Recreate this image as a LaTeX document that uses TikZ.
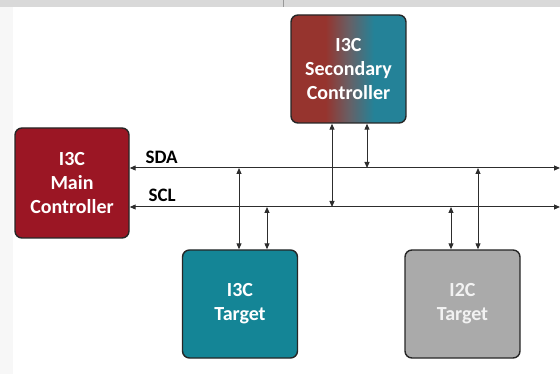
\documentclass[tikz,border=0pt]{standalone}
\usepackage{fontspec}
\setmainfont{Carlito}
\usetikzlibrary{arrows.meta,calc}

\definecolor{mainred}{RGB}{155,22,36}
\definecolor{secred}{RGB}{150,52,46}
\definecolor{secteal}{RGB}{36,130,152}
\definecolor{tgtteal}{RGB}{20,133,150}
\definecolor{tgtgray}{RGB}{170,170,170}
\definecolor{edgedark}{RGB}{38,38,38}
\definecolor{wirecol}{RGB}{45,45,45}

% Verlauf rot -> petrol fuer den Secondary Controller
\pgfdeclarehorizontalshading{redteal}{100bp}{color(0bp)=(secred); color(40bp)=(secred);
  color(50bp)=(secred!55!secteal!80!gray); color(61bp)=(secteal); color(100bp)=(secteal)}

\tikzset{
  block/.style={draw=edgedark, line width=1.4pt, rounded corners=7pt,
    minimum width=115pt, minimum height=108pt, align=center, text=white,
    font=\fontsize{20}{24}\selectfont\bfseries},
  wire/.style={<->, draw=wirecol, line width=1pt},
  buslabel/.style={anchor=west, font=\fontsize{19}{22}\selectfont\bfseries}
}

\begin{document}
\begin{tikzpicture}[x=1pt, y=-1pt, >={Stealth[length=6pt,width=5pt,inset=0pt]}]
  \useasboundingbox (0,0) rectangle (560,374);

  % Bildschirmrand
  \fill[black!3] (0,0) rectangle (13,374);
  \fill[black!15] (0,0) rectangle (560,7);
  \draw[black!40] (283,0) -- (283,7);

  % Bausteine
  \node[block, fill=mainred, minimum width=114pt, minimum height=110pt] (main) at (72,183) {I3C\\Main\\Controller};
  \node[block, shading=redteal] (sec) at (348.5,69) {I3C\\Secondary\\Controller};
  \node[block, fill=tgtteal] (i3ct) at (240,304) {I3C\\Target};
  \node[block, fill=tgtgray, text=black!5] (i2ct) at (462.5,304) {I2C\\Target};

  % Busleitungen
  \coordinate (sdaR) at (560,168);
  \coordinate (sclR) at (560,207);
  \draw[wire] (main.east |- sdaR) -- (sdaR);
  \draw[wire] (main.east |- sclR) -- (sclR);
  \node[buslabel] (sda) at (142,157) {SDA};
  \node[buslabel] (scl) at (145,195) {SCL};

  % Anschluesse an SDA / SCL
  \draw[wire] ([xshift=-16.5pt]sec.south) -- ([xshift=-16.5pt]sec.south |- sclR);
  \draw[wire] ([xshift=18.5pt]sec.south) -- ([xshift=18.5pt]sec.south |- sdaR);
  \draw[wire] ([xshift=-1pt]i3ct.north) -- ([xshift=-1pt]i3ct.north |- sdaR);
  \draw[wire] ([xshift=27pt]i3ct.north) -- ([xshift=27pt]i3ct.north |- sclR);
  \draw[wire] ([xshift=-11.5pt]i2ct.north) -- ([xshift=-11.5pt]i2ct.north |- sclR);
  \draw[wire] ([xshift=15.5pt]i2ct.north) -- ([xshift=15.5pt]i2ct.north |- sdaR);
\end{tikzpicture}
\end{document}
